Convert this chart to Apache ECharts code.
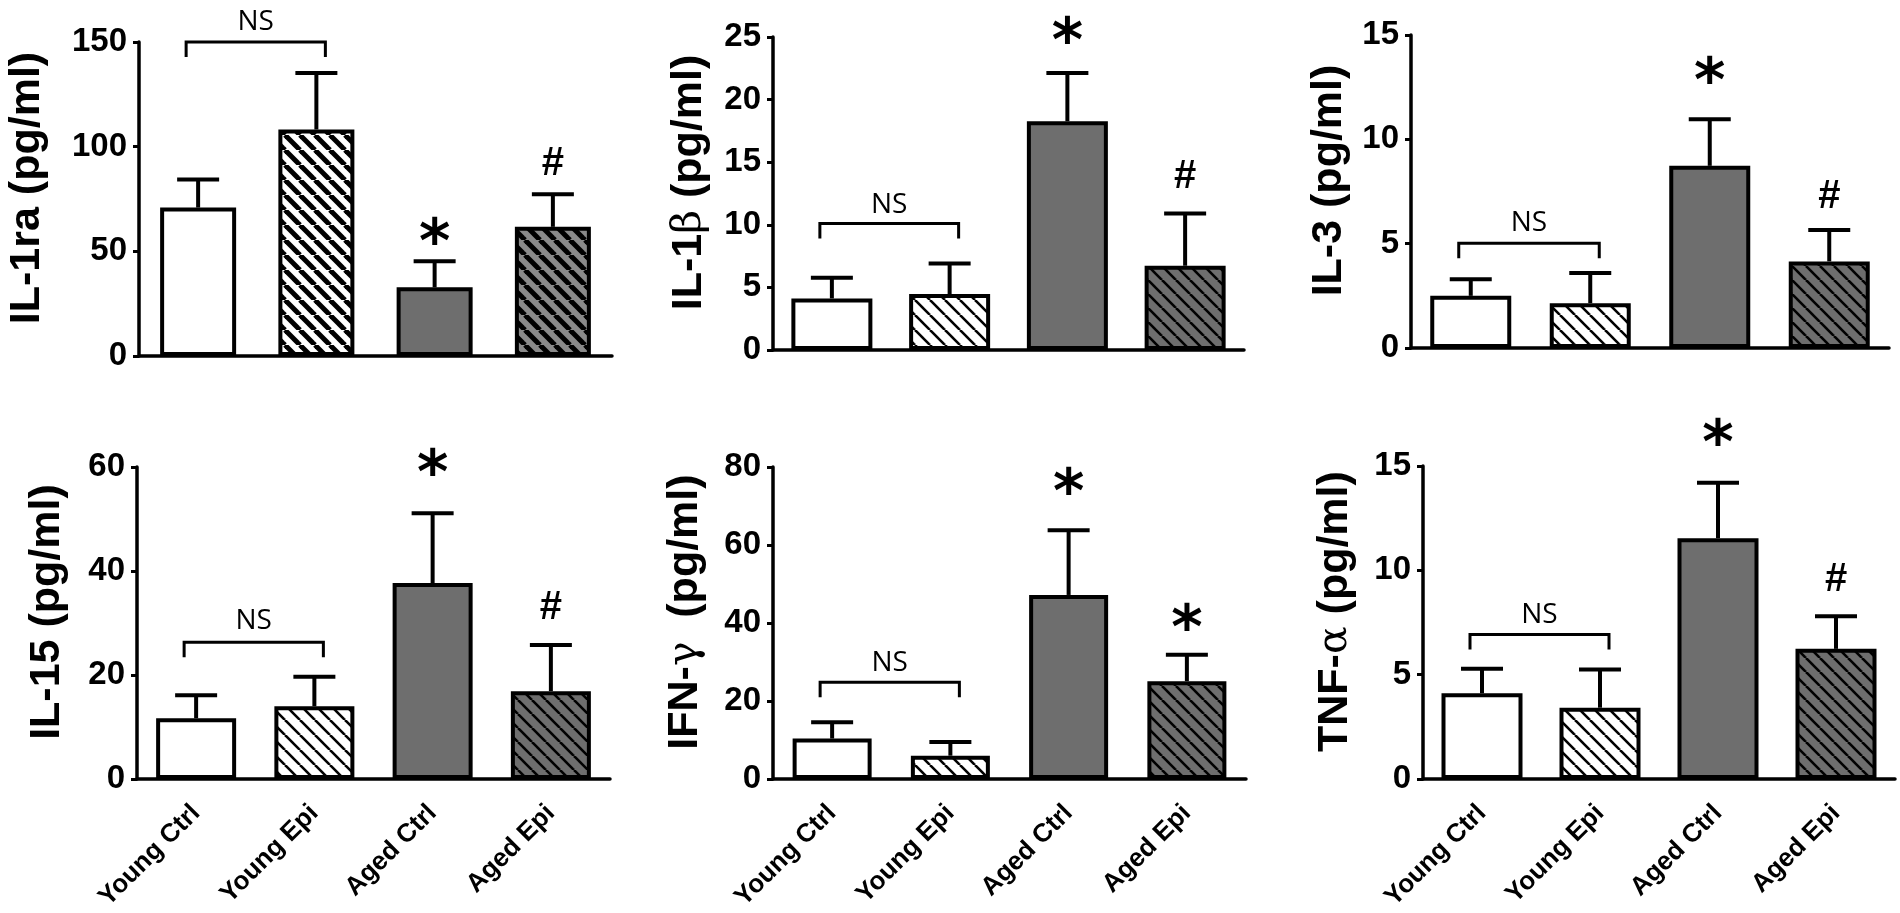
<!DOCTYPE html>
<html><head><meta charset="utf-8">
<script src="https://cdn.jsdelivr.net/npm/echarts@6/dist/echarts.min.js"></script>
<style>html,body{margin:0;padding:0;background:#fff}#c{width:1900px;height:913px}</style>
</head><body><div id="c"></div>
<script>
// ---------------- data ----------------
const categories = ['Young Ctrl', 'Young Epi', 'Aged Ctrl', 'Aged Epi'];

const il1raMean = [70.9, 108.2, 32.8, 61.7];
const il1raSem  = [13.4, 27.0, 12.5, 15.6];
const il1raMarks = ['', '', '*', '#'];
const il1raMarkY = [null, null, 58.6, 91.9];

const il1bMean = [4.12, 4.47, 18.27, 6.73];
const il1bSem  = [1.65, 2.44, 3.86, 4.17];
const il1bMarks = ['', '', '*', '#'];
const il1bMarkY = [null, null, 25.4, 13.8];

const il3Mean = [2.5, 2.15, 8.73, 4.15];
const il3Sem  = [0.8, 1.44, 2.23, 1.51];
const il3Marks = ['', '', '*', '#'];
const il3MarkY = [null, null, 13.24, 7.25];

const il15Mean = [11.7, 14.0, 37.7, 16.9];
const il15Sem  = [4.4, 5.7, 13.4, 8.9];
const il15Marks = ['', '', '*', '#'];
const il15MarkY = [null, null, 60.6, 32.9];

const ifngMean = [10.4, 6.0, 47.2, 25.1];
const ifngSem  = [4.2, 3.5, 16.6, 6.8];
const ifngMarks = ['', '', '*', '*'];
const ifngMarkY = [null, null, 75.8, 40.9];

const tnfaMean = [4.11, 3.42, 11.54, 6.24];
const tnfaSem  = [1.18, 1.83, 2.66, 1.56];
const tnfaMarks = ['', '', '*', '#'];
const tnfaMarkY = [null, null, 16.5, 9.55];

// NS bracket level and NS text level (value units) per panel
const bracketY = [150, 10.1, 5.02, 26.3, 24.85, 6.93];
const nsTextY  = [159.5, 11.6, 5.98, 30.3, 29.8, 7.88];

const yNames = ['IL-1ra (pg/ml)', 'IL-1{g|β} (pg/ml)', 'IL-3 (pg/ml)', 'IL-15 (pg/ml)', 'IFN-{g|γ}  (pg/ml)', 'TNF-{g|α} (pg/ml)'];
const yMax = [150, 25, 15, 60, 80, 15];
const yInterval = [50, 5, 5, 20, 20, 5];

// ---------------- styling / layout ----------------
const layouts = [
  {left: 139, top: 42, width: 473, height: 314, gap: 90, barW: 76},
  {left: 773, top: 37, width: 471, height: 313, gap: 62, barW: 81},
  {left: 1411, top: 35, width: 478, height: 313, gap: 60, barW: 81},
  {left: 137, top: 467, width: 473, height: 313, gap: 68, barW: 80},
  {left: 773, top: 467, width: 473, height: 313, gap: 66, barW: 79},
  {left: 1423, top: 466, width: 472, height: 314, gap: 66, barW: 81}
];

function hatch(bg, s, lw) {
  const c = document.createElement('canvas');
  c.width = s; c.height = s;
  const g = c.getContext('2d');
  g.fillStyle = bg; g.fillRect(0, 0, s, s);
  g.strokeStyle = '#000'; g.lineWidth = lw;
  for (let k = -1; k <= 1; k++) {
    g.beginPath(); g.moveTo(k * s, 0); g.lineTo(k * s + s, s); g.stroke();
  }
  return {image: c, repeat: 'repeat'};
}
const GRAY = '#6e6e6e';
function fillsFor(i) {
  if (i === 0) return ['#ffffff', hatch('#ffffff', 15, 5), GRAY, hatch('#8a8a8a', 15, 5)];
  return ['#ffffff', hatch('#ffffff', 15, 2.6), GRAY, hatch('#6e6e6e', 14, 2.6)];
}

const panels = [
  {mean: il1raMean, sem: il1raSem, marks: il1raMarks, markY: il1raMarkY},
  {mean: il1bMean, sem: il1bSem, marks: il1bMarks, markY: il1bMarkY},
  {mean: il3Mean, sem: il3Sem, marks: il3Marks, markY: il3MarkY},
  {mean: il15Mean, sem: il15Sem, marks: il15Marks, markY: il15MarkY},
  {mean: ifngMean, sem: ifngSem, marks: ifngMarks, markY: ifngMarkY},
  {mean: tnfaMean, sem: tnfaSem, marks: tnfaMarks, markY: tnfaMarkY}
];

const FONT = '"Liberation Sans", Arial, sans-serif';
const grids = [], xAxes = [], yAxes = [], series = [];

panels.forEach((p, i) => {
  const L = layouts[i];
  grids.push({left: L.left, top: L.top, width: L.width, height: L.height, containLabel: false});
  xAxes.push({
    type: 'category', gridIndex: i, data: categories,
    axisLine: {lineStyle: {color: '#000', width: 3.5}},
    axisTick: {alignWithLabel: true, length: 9, lineStyle: {color: '#000', width: 3}},
    axisLabel: {show: i >= 3, interval: 0, rotate: 45, margin: 30, color: '#000',
      fontFamily: FONT, fontWeight: 'bold', fontSize: 26}
  });
  yAxes.push({
    type: 'value', gridIndex: i, min: 0, max: yMax[i], interval: yInterval[i],
    splitLine: {show: false},
    axisLine: {show: true, lineStyle: {color: '#000', width: 3.5}},
    axisTick: {show: true, length: 6, lineStyle: {color: '#000', width: 3}},
    axisLabel: {color: '#000', fontFamily: FONT, fontWeight: 'bold', fontSize: 33, margin: 12},
    name: yNames[i], nameLocation: 'middle', nameGap: L.gap,
    nameTextStyle: {color: '#000', fontFamily: FONT, fontWeight: 'bold', fontSize: 43,
      padding: [0, 0, 0, 22],
      rich: {g: {fontFamily: '"DejaVu Serif", serif', fontWeight: 'normal', fontSize: 41, color: '#000'}}}
  });
  const fills = fillsFor(i);
  series.push({
    type: 'bar', xAxisIndex: i, yAxisIndex: i, barWidth: L.barW, z: 2,
    data: p.mean.map((v, j) => ({value: v, itemStyle: {color: fills[j], borderColor: '#000', borderWidth: 4}}))
  });
  // error bars
  series.push({
    type: 'custom', xAxisIndex: i, yAxisIndex: i, z: 3,
    data: p.mean.map((m, j) => [j, m, m + p.sem[j]]),
    encode: {x: 0, y: [1, 2]},
    renderItem: (params, api) => {
      const b = api.coord([api.value(0), api.value(1)]);
      const t = api.coord([api.value(0), api.value(2)]);
      const st = {stroke: '#000', lineWidth: 4};
      return {type: 'group', children: [
        {type: 'line', shape: {x1: b[0], y1: b[1], x2: t[0], y2: t[1]}, style: st},
        {type: 'line', shape: {x1: t[0] - 21, y1: t[1], x2: t[0] + 21, y2: t[1]}, style: st}
      ]};
    }
  });
  // significance marks
  const markIdx = p.marks.map((m, j) => m ? j : -1).filter(j => j >= 0);
  series.push({
    type: 'custom', xAxisIndex: i, yAxisIndex: i, z: 4, clip: false,
    data: markIdx.map(j => [j, p.markY[j]]),
    renderItem: (params, api) => {
      const j = markIdx[params.dataIndex];
      const txt = p.marks[j];
      const pt = api.coord([api.value(0), api.value(1)]);
      const star = txt === '*';
      const fs = star ? 60 : 40;
      return {type: 'text', x: pt[0], y: pt[1] + (star ? fs * 0.22 : 0),
        style: {text: txt, fill: '#000', align: 'center', verticalAlign: 'middle',
          font: 'bold ' + fs + 'px ' + (star ? '"DejaVu Sans"' : '"Liberation Sans"')}};
    }
  });
  // NS bracket
  series.push({
    type: 'custom', xAxisIndex: i, yAxisIndex: i, z: 4, clip: false,
    data: [[0, bracketY[i], 1, nsTextY[i]]],
    encode: {x: [0, 2], y: [1, 3]},
    renderItem: (params, api) => {
      const a = api.coord([api.value(0), api.value(1)]);
      const b = api.coord([api.value(2), api.value(1)]);
      const n = api.coord([api.value(0), api.value(3)]);
      const x0 = a[0] - 12, x1 = b[0] + 9, y = a[1];
      return {type: 'group', children: [
        {type: 'polyline', shape: {points: [[x0, y + 15], [x0, y], [x1, y], [x1, y + 15]]},
          style: {stroke: '#000', lineWidth: 3, fill: null}},
        {type: 'text', x: (x0 + x1) / 2, y: n[1],
          style: {text: 'NS', fill: '#000', align: 'center', verticalAlign: 'middle',
            font: '28px "Open Sans", sans-serif'}}
      ]};
    }
  });
});

const chart = echarts.init(document.getElementById('c'), null, {renderer: 'canvas'});
chart.setOption({
  animation: false,
  backgroundColor: '#fff',
  grid: grids, xAxis: xAxes, yAxis: yAxes, series: series
});
</script>
</body></html>
